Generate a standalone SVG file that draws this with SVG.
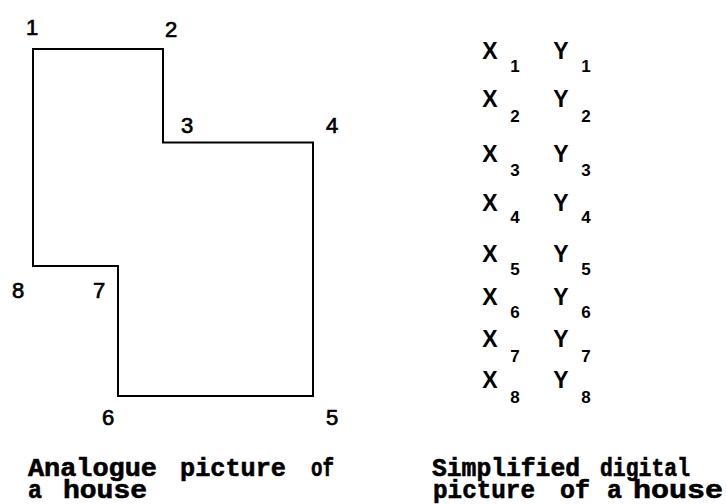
<svg xmlns="http://www.w3.org/2000/svg" width="726" height="504" viewBox="0 0 726 504">
<style>
.bg{fill:#fff}
.house{fill:none;stroke:#000;stroke-width:2;stroke-linejoin:miter}
.lbl{font-family:"Liberation Sans",Arial,sans-serif;font-size:22px;fill:#000;stroke:#000;stroke-width:0.7;text-anchor:middle}
.xy{font-family:"Liberation Sans",Arial,sans-serif;font-size:23px;font-weight:bold;fill:#000;text-anchor:middle}
.sub{font-family:"Liberation Sans",Arial,sans-serif;font-size:17px;font-weight:bold;fill:#000;text-anchor:middle}
.cap{font-family:"Liberation Mono","Courier New",monospace;font-size:25px;font-weight:bold;fill:#000;stroke:#000;stroke-width:0.6}
</style>
<rect class="bg" x="0" y="0" width="726" height="504"/>
<g id="connectors">
<polygon class="house" points="33,49 163,49 163,142.5 313,142.5 313,396 118,396 118,266 33,266"/>
</g>
<g id="corner-labels">
<text class="lbl" x="32" y="35">1</text>
<text class="lbl" x="171" y="37">2</text>
<text class="lbl" x="187" y="133">3</text>
<text class="lbl" x="332" y="133">4</text>
<text class="lbl" x="332" y="425">5</text>
<text class="lbl" x="108" y="425">6</text>
<text class="lbl" x="99" y="298">7</text>
<text class="lbl" x="18" y="298">8</text>
</g>
<g id="coordinates">
<text class="xy" x="490" y="59">X</text><text class="sub" x="515" y="72">1</text>
<text class="xy" x="561" y="59">Y</text><text class="sub" x="586" y="72">1</text>
<text class="xy" x="490" y="107">X</text><text class="sub" x="515" y="122">2</text>
<text class="xy" x="561" y="107">Y</text><text class="sub" x="586" y="122">2</text>
<text class="xy" x="490" y="162">X</text><text class="sub" x="515" y="176">3</text>
<text class="xy" x="561" y="162">Y</text><text class="sub" x="586" y="176">3</text>
<text class="xy" x="490" y="211">X</text><text class="sub" x="515" y="223">4</text>
<text class="xy" x="561" y="211">Y</text><text class="sub" x="586" y="223">4</text>
<text class="xy" x="490" y="262">X</text><text class="sub" x="515" y="275">5</text>
<text class="xy" x="561" y="262">Y</text><text class="sub" x="586" y="275">5</text>
<text class="xy" x="490" y="305">X</text><text class="sub" x="515" y="318">6</text>
<text class="xy" x="561" y="305">Y</text><text class="sub" x="586" y="318">6</text>
<text class="xy" x="490" y="347">X</text><text class="sub" x="515" y="362">7</text>
<text class="xy" x="561" y="347">Y</text><text class="sub" x="586" y="362">7</text>
<text class="xy" x="490" y="388">X</text><text class="sub" x="515" y="403">8</text>
<text class="xy" x="561" y="388">Y</text><text class="sub" x="586" y="403">8</text>
</g>
<g id="caption-left">
<text class="cap" y="476"><tspan x="28" textLength="129" lengthAdjust="spacingAndGlyphs">Analogue</tspan> <tspan x="180" textLength="106" lengthAdjust="spacingAndGlyphs">picture</tspan> <tspan x="311" textLength="23" lengthAdjust="spacingAndGlyphs">of</tspan></text>
<text class="cap" y="498"><tspan x="28" textLength="14" lengthAdjust="spacingAndGlyphs">a</tspan> <tspan x="63" textLength="84" lengthAdjust="spacingAndGlyphs">house</tspan></text>
</g>
<g id="caption-right">
<text class="cap" y="476"><tspan x="432" textLength="148" lengthAdjust="spacingAndGlyphs">Simplified</tspan> <tspan x="600" textLength="90" lengthAdjust="spacingAndGlyphs">digital</tspan></text>
<text class="cap" y="498"><tspan x="433" textLength="102" lengthAdjust="spacingAndGlyphs">picture</tspan> <tspan x="560" textLength="30" lengthAdjust="spacingAndGlyphs">of</tspan> <tspan x="607" textLength="15" lengthAdjust="spacingAndGlyphs">a</tspan> <tspan x="633" textLength="90" lengthAdjust="spacingAndGlyphs">house</tspan></text>
</g>
</svg>
